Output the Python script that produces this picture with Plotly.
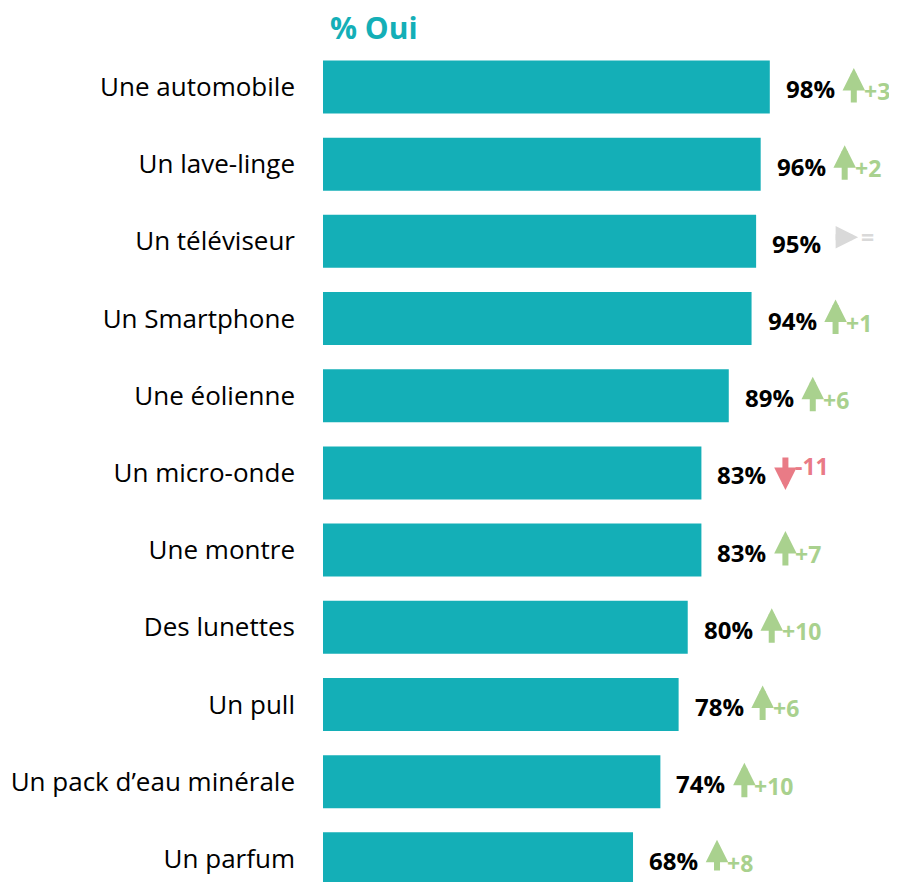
import plotly.graph_objects as go

categories = ["Une automobile", "Un lave-linge", "Un téléviseur", "Un Smartphone",
              "Une éolienne", "Un micro-onde", "Une montre", "Des lunettes",
              "Un pull", "Un pack d\u2019eau minérale", "Un parfum"]
values = [98, 96, 95, 94, 89, 83, 83, 80, 78, 74, 68]
deltas = [3, 2, 0, 1, 6, -11, 7, 10, 6, 10, 8]

TEAL = "#14afb7"
GREEN = "#a9d18e"
RED = "#e97b86"
GREY = "#d9d9d9"
FONT = "Open Sans"

fig = go.Figure()
fig.add_trace(go.Bar(
    x=values, y=categories, orientation="h",
    marker=dict(color=TEAL, line=dict(width=0)),
    hoverinfo="skip",
))

ARROW_X = 84
TEXT_X = 93
ann = []
for c, v, d in zip(categories, values, deltas):
    ann.append(dict(x=v, y=c, xref="x", yref="y", text="<b>%d%%</b>" % v,
                    showarrow=False, xanchor="left", yanchor="middle",
                    xshift=14, yshift=-2,
                    font=dict(family=FONT, size=24, color="#000000")))
    if d > 0:
        col, txt, ty = GREEN, "+%d" % d, -4
        arr = dict(ax=0, ay=35, xshift=ARROW_X, yshift=19)
    elif d < 0:
        col, txt, ty = RED, "%d" % d, 7
        arr = dict(ax=0, ay=-33, xshift=ARROW_X, yshift=-17)
    else:
        col, txt, ty = GREY, "=", 4
        arr = dict(ax=-23, ay=0, xshift=ARROW_X + 18, yshift=4)
    ann.append(dict(x=v, y=c, xref="x", yref="y", text="", showarrow=True,
                    axref="pixel", ayref="pixel", ax=arr["ax"], ay=arr["ay"],
                    xshift=arr["xshift"], yshift=arr["yshift"],
                    font=dict(size=1), borderpad=0,
                    arrowhead=2, arrowsize=0.75, arrowwidth=6, arrowcolor=col,
                    standoff=0, startstandoff=0))
    ann.append(dict(x=v, y=c, xref="x", yref="y", text="<b>%s</b>" % txt,
                    showarrow=False, xanchor="left", yanchor="middle",
                    xshift=TEXT_X + (11 if d == 0 else 0), yshift=ty, borderpad=0,
                    font=dict(family=FONT, size=23, color=col)))

ann.append(dict(x=0, y=1, xref="x", yref="paper", text="<b>% Oui</b>",
                showarrow=False, xanchor="left", yanchor="middle",
                xshift=5, yshift=-17, font=dict(family=FONT, size=30, color=TEAL)))

fig.update_layout(
    width=889, height=882,
    margin=dict(l=315, r=0, t=2, b=8),
    paper_bgcolor="white", plot_bgcolor="white",
    bargap=0.313,
    showlegend=False,
    annotations=ann,
    xaxis=dict(range=[0, 125.9], visible=False, fixedrange=True),
    yaxis=dict(categoryorder="array", categoryarray=categories,
               range=[10.30, -0.997], showgrid=False, zeroline=False,
               showline=False, ticks="", ticklabelstandoff=27,
               tickfont=dict(family=FONT, size=26, color="#000000"),
               fixedrange=True),
)

fig.write_html("out.html")
